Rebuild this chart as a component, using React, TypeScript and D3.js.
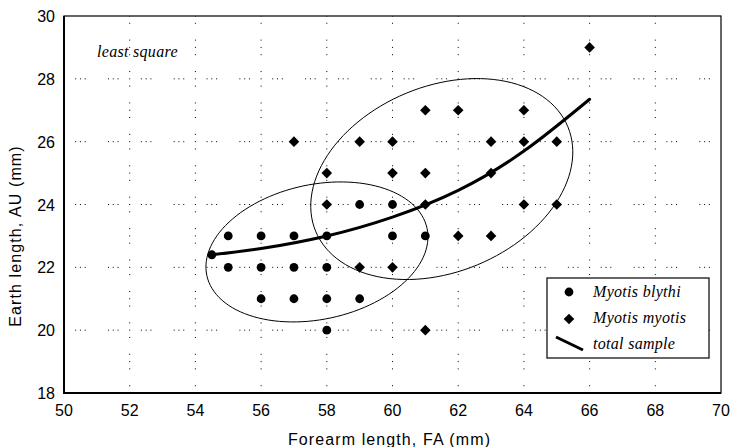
import React from "react";
import * as d3 from "d3";

const xTicks = [50, 52, 54, 56, 58, 60, 62, 64, 66, 68, 70];
const yTicks = [18, 20, 22, 24, 26, 28, 30];

// Myotis blythi (circles)
const blythiFA = [54.5, 55, 56, 57, 58, 60, 61, 55, 56, 57, 58, 56, 57, 58, 59, 58, 59, 60];
const blythiAU = [22.4, 23, 23, 23, 23, 23, 23, 22, 22, 22, 22, 21, 21, 21, 21, 20, 24, 24];

// Myotis myotis (diamonds)
const myotisFA = [57, 59, 60, 63, 64, 65, 58, 60, 61, 63, 58, 61, 64, 65, 62, 63, 59, 60, 61, 61, 62, 64, 66];
const myotisAU = [26, 26, 26, 26, 26, 26, 25, 25, 25, 25, 24, 24, 24, 24, 23, 23, 22, 22, 20, 27, 27, 27, 29];

// total sample least-square curve
const trendFA = [54.5, 56, 58, 60, 62, 64, 66];
const trendAU = [22.4, 22.6, 23.0, 23.6, 24.45, 25.7, 27.35];

// ellipses: centre and conjugate semi-axis vectors in data units
const ellipseCx = [57.7, 61.5];
const ellipseCy = [22.49, 24.81];
const ellipseMajor = [[3.352, 0.751], [3.839, 1.663]];
const ellipseMinor = [[0.43, -2.098], [1.082, -2.732]];

const legendLabels = ["Myotis blythi", "Myotis myotis", "total sample"];

const W = 732, H = 447;
const L = 64, R = 721, T = 16, B = 393;

export default function App() {
  const x = d3.scaleLinear().domain([50, 70]).range([L, R]);
  const y = d3.scaleLinear().domain([18, 30]).range([B, T]);
  const ux = x(51) - x(50);
  const uy = y(18) - y(19);

  const line = d3
    .line<number>()
    .x((_, i) => x(trendFA[i]))
    .y((_, i) => y(trendAU[i]))
    .curve(d3.curveNatural);

  const ellipsePath = (k: number) => {
    const pts: [number, number][] = d3.range(0, 361, 3).map((deg) => {
      const t = (deg * Math.PI) / 180;
      const dx = ellipseCx[k] + ellipseMajor[k][0] * Math.cos(t) + ellipseMinor[k][0] * Math.sin(t);
      const dy = ellipseCy[k] + ellipseMajor[k][1] * Math.cos(t) + ellipseMinor[k][1] * Math.sin(t);
      return [x(dx), y(dy)];
    });
    return d3.line().curve(d3.curveLinearClosed)(pts) || "";
  };

  const gridX = d3.range(52, 70, 2);
  const gridY = d3.range(20, 30, 2);
  const diamond = (cx: number, cy: number, r: number) =>
    `M${cx},${cy - r}L${cx + r},${cy}L${cx},${cy + r}L${cx - r},${cy}Z`;

  const sans = "'Liberation Sans', Arial, sans-serif";
  const serif = "'Liberation Serif', 'Times New Roman', serif";

  return (
    <svg
      width={W}
      height={H}
      style={{ position: "absolute", left: 0, top: 0, background: "#fff" }}
    >
      <rect x={0} y={0} width={W} height={H} fill="#fff" />
      {/* grid */}
      <g stroke="#000" strokeWidth={1}>
        {gridX.map((v) => (
          <line
            key={"gx" + v}
            x1={x(v)}
            x2={x(v)}
            y1={T}
            y2={B}
            strokeDasharray={`1 ${uy * 0.2} 1 ${uy * 0.2} 1 ${uy - 3 - uy * 0.4}`}
            strokeDashoffset={uy * 0.2 + 1.5}
          />
        ))}
        {gridY.map((v) => (
          <line
            key={"gy" + v}
            x1={L}
            x2={R}
            y1={y(v)}
            y2={y(v)}
            strokeDasharray={`1 ${ux * 0.115} 1 ${ux * 0.115} 1 ${ux - 3 - ux * 0.23}`}
            strokeDashoffset={ux * 0.115 + 1.5 - ux / 2}
          />
        ))}
      </g>
      {/* frame */}
      <rect x={L} y={T} width={R - L} height={B - T} fill="none" stroke="#000" strokeWidth={1.2} />
      <line x1={L} x2={L} y1={T} y2={B + 1} stroke="#000" strokeWidth={2} />
      <line x1={L - 1} x2={R} y1={B} y2={B} stroke="#000" strokeWidth={2} />

      {/* ellipses */}
      {[0, 1].map((k) => (
        <path key={"e" + k} d={ellipsePath(k)} fill="none" stroke="#000" strokeWidth={1} />
      ))}

      {/* trend line */}
      <path d={line(trendFA) || ""} fill="none" stroke="#000" strokeWidth={3} strokeLinecap="round" />

      {/* points */}
      {blythiFA.map((v, i) => (
        <circle key={"b" + i} cx={x(v)} cy={y(blythiAU[i])} r={4.4} fill="#000" />
      ))}
      {myotisFA.map((v, i) => (
        <path key={"m" + i} d={diamond(x(v), y(myotisAU[i]), 5.3)} fill="#000" />
      ))}

      {/* tick labels */}
      {xTicks.map((v) => (
        <text key={"xt" + v} x={x(v)} y={416} textAnchor="middle" fontFamily={sans} fontSize={16}>
          {v}
        </text>
      ))}
      {yTicks.map((v) => (
        <text key={"yt" + v} x={55} y={y(v) + 6} textAnchor="end" fontFamily={sans} fontSize={16}>
          {v}
        </text>
      ))}

      {/* axis titles */}
      <text x={(L + R) / 2 - 3} y={445} textAnchor="middle" fontFamily={sans} fontSize={16} letterSpacing={1.1}>
        Forearm length, FA (mm)
      </text>
      <text
        transform={`translate(21,236) rotate(-90)`}
        textAnchor="middle"
        fontFamily={sans}
        fontSize={16}
        letterSpacing={1.1}
      >
        Earth length, AU (mm)
      </text>

      {/* annotation */}
      <text x={97} y={57} fontFamily={serif} fontStyle="italic" fontSize={16} letterSpacing={0.3}>
        least square
      </text>

      {/* legend */}
      <rect x={547} y={278} width={162} height={80} fill="#fff" stroke="#000" strokeWidth={1.2} />
      <circle cx={569} cy={292} r={4.4} fill="#000" />
      <path d={diamond(569, 319, 5.3)} fill="#000" />
      <line x1={556} y1={337} x2={583} y2={350} stroke="#000" strokeWidth={3} />
      {legendLabels.map((s, i) => (
        <text
          key={"l" + i}
          x={593}
          y={297 + i * 26}
          fontFamily={serif}
          fontStyle="italic"
          fontSize={16}
          letterSpacing={0.3}
        >
          {s}
        </text>
      ))}
    </svg>
  );
}
